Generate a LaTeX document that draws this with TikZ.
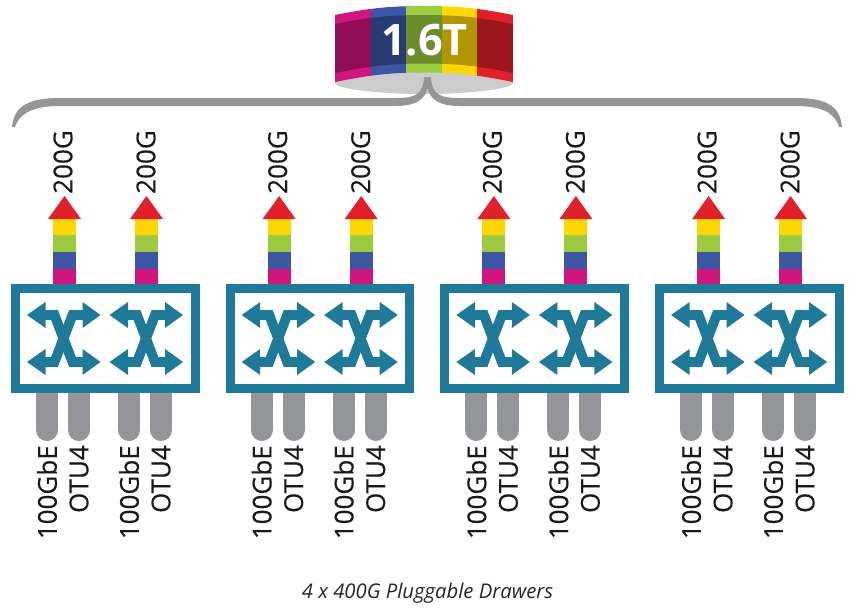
\documentclass[tikz,border=0pt]{standalone}
\usepackage{fontspec}
\setmainfont{Open Sans}
\newfontfamily\labelfont[FakeBold=0.35]{Open Sans}
\usepackage{xcolor}
\definecolor{cteal}{HTML}{1F7A99}
\definecolor{cgrey}{HTML}{939598}
\definecolor{cbrace}{HTML}{969696}
\definecolor{cdisc}{HTML}{CCCCCC}
\definecolor{cmag}{HTML}{D0157F}
\definecolor{cblue}{HTML}{3C55A5}
\definecolor{cgreen}{HTML}{9CCB3F}
\definecolor{cyellow}{HTML}{FFD600}
\definecolor{cred}{HTML}{E2202B}
\usetikzlibrary{arrows,shapes,positioning}

% one stacked arrow
\newcommand{\stackarrow}[1]{
\fill[cmag] (#1-11.5,269) rectangle (#1+11.5,285);
\fill[cblue] (#1-11.5,252) rectangle (#1+11.5,269);
\fill[cgreen] (#1-11.5,235) rectangle (#1+11.5,252);
\fill[cyellow] (#1-11.5,219) rectangle (#1+11.5,235);
\fill[cred] (#1-16.5,219) -- (#1,196) -- (#1+16.5,219) -- cycle;
}
% crossed arrows icon
\newcommand{\crossicon}[1]{
\draw[xline] (#1-19,315) -- (#1-9,315) -- (#1+9,362) -- (#1+20,362);
\draw[xline] (#1-19,362) -- (#1-9,362) -- (#1+9,315) -- (#1+20,315);
\fill[cteal] (#1-18,302) -- (#1-36.5,315) -- (#1-18,328) -- cycle;
\fill[cteal] (#1-18,349) -- (#1-36.5,362) -- (#1-18,375) -- cycle;
\fill[cteal] (#1+19,302) -- (#1+37,315) -- (#1+19,328) -- cycle;
\fill[cteal] (#1+19,349) -- (#1+37,362) -- (#1+19,375) -- cycle;
}

\begin{document}
\begin{tikzpicture}[x=0.75pt, y=-0.75pt,
  drawerbox/.style={draw=cteal, line width=6.75pt, fill=white, minimum width=134.6pt, minimum height=75pt, inner sep=0pt},
  xline/.style={draw=cteal, line width=7.4pt, miter limit=4},
  plug/.style={line width=16.5pt, draw=cgrey, line cap=round},
  uplabel/.style={rotate=90, anchor=center, inner sep=0pt, text=black!90, font=\labelfont\fontsize{19.5}{20}\selectfont},
  downlabel/.style={rotate=90, anchor=east, inner sep=0pt, text=black!90, font=\labelfont\fontsize{19.5}{20}\selectfont}]

\useasboundingbox (0,0) rectangle (851,608);

% top ring
\fill[cdisc] (335,83) .. controls (335,89) and (380,94) .. (424,94) .. controls (468,94) and (513,89) .. (513,83) .. controls (513,77) and (468,72) .. (424,72) .. controls (380,72) and (335,77) .. (335,83) -- cycle;
\begin{scope}
\clip (335,15) .. controls (370,8) and (390,6) .. (424,6) .. controls (458,6) and (478,8) .. (513,15) -- (513,82) .. controls (478,75) and (458,72.5) .. (424,72.5) .. controls (390,72.5) and (370,75) .. (335,82) -- cycle;
\fill[cmag] (335,0) rectangle (370.5,90);
\fill[cblue] (370.5,0) rectangle (406,90);
\fill[cgreen] (406,0) rectangle (441.5,90);
\fill[cyellow] (441.5,0) rectangle (477,90);
\fill[cred] (477,0) rectangle (513,90);
\fill[black, opacity=.3] (335,24) .. controls (370,17) and (390,15) .. (424,15) .. controls (458,15) and (478,17) .. (513,24) -- (513,73) .. controls (478,66) and (458,63.5) .. (424,63.5) .. controls (390,63.5) and (370,66) .. (335,73) -- cycle;
\end{scope}
\node[text=white, inner sep=0pt, font=\fontsize{32.5}{33}\selectfont\bfseries] (ringlabel) at (424.5,40) {1.6T};

% brace
\fill[cbrace] (12,127) .. controls (14,105) and (30,98) .. (60,98) -- (395,98) .. controls (415,98) and (423,95) .. (424,77) -- (431,77) .. controls (432,95) and (440,98) .. (460,98) -- (795,98) .. controls (825,98) and (840,105) .. (842,127) -- (839,127) .. controls (835,112) and (820,106) .. (795,106) -- (460,106) .. controls (440,106) and (430,100) .. (427.5,88) .. controls (425,100) and (415,106) .. (395,106) -- (60,106) .. controls (35,106) and (20,112) .. (15,127) -- cycle;

% four drawers
\foreach \i in {0,1,2,3} {
\begin{scope}[shift={(214.7*\i,0)}]
\stackarrow{64.5}
\stackarrow{146.5}
\foreach \px in {47,79,129,161}
  \draw[plug] (\px,393) -- (\px,430);
\node[drawerbox] (drawer\i) at (105.3,338.5) {};
\crossicon{63.5}
\crossicon{146}
\node[uplabel] (rate\i a) at (63,162) {200G};
\node[uplabel] (rate\i b) at (146,162) {200G};
\node[downlabel] (port\i a) at (47,445) {100GbE};
\node[downlabel] (port\i b) at (79,445) {OTU4};
\node[downlabel] (port\i c) at (129,445) {100GbE};
\node[downlabel] (port\i d) at (161,445) {OTU4};
\end{scope}
}

\node[inner sep=0pt, text=black!85, font=\fontsize{15.2}{16}\selectfont\itshape] (caption) at (427.5,593) {4 x 400G Pluggable Drawers};
\end{tikzpicture}
\end{document}
